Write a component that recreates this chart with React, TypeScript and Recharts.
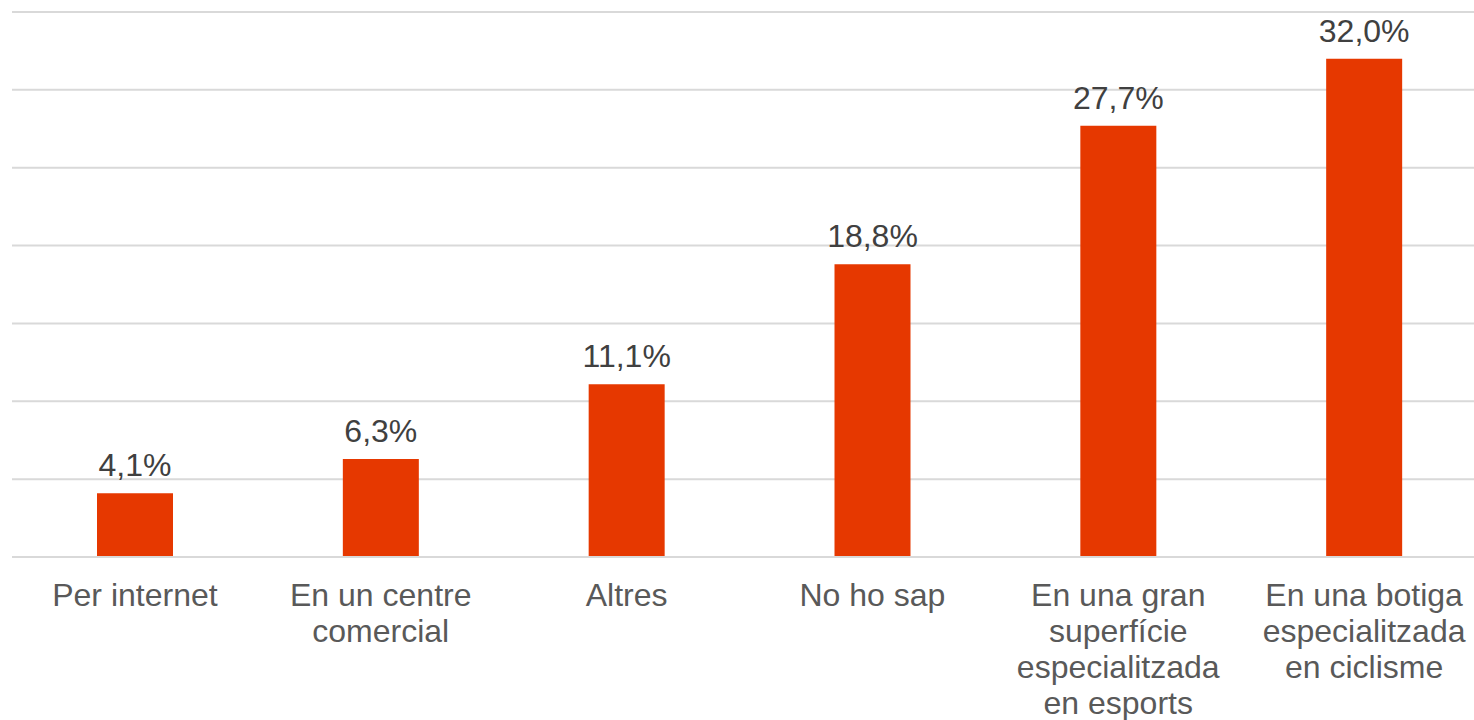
import React from "react";
import { Bar, BarChart, CartesianGrid, LabelList, XAxis, YAxis } from "recharts";

const categories = [
  "Per internet",
  "En un centre\ncomercial",
  "Altres",
  "No ho sap",
  "En una gran\nsuperfície\nespecialitzada\nen esports",
  "En una botiga\nespecialitzada\nen ciclisme",
];
const shares = [4.1, 6.3, 11.1, 18.8, 27.7, 32.0];
const yTicks = [0, 5, 10, 15, 20, 25, 30, 35];

const data = categories.map((name, i) => ({ name, value: shares[i] }));

const FONT = "'Liberation Sans', Arial, sans-serif";

function CategoryTick(props: any) {
  const { x, y, payload } = props;
  const lines = String(payload.value).split("\n");
  return (
    <text
      x={x}
      y={y}
      textAnchor="middle"
      fill="#595959"
      fontSize={32}
      fontFamily={FONT}
    >
      {lines.map((line, i) => (
        <tspan key={i} x={x} dy={i === 0 ? 41 : 36}>
          {line}
        </tspan>
      ))}
    </text>
  );
}

const formatPct = (v: any) => `${Number(v).toFixed(1).replace(".", ",")}%`;

export default function App() {
  return (
    <div
      style={{
        position: "fixed",
        left: 0,
        top: 0,
        width: 1474,
        height: 720,
        overflow: "hidden",
        background: "#fff",
      }}
    >
      <BarChart
        width={1490}
        height={720}
        data={data}
        margin={{ top: 12, right: 3, left: 12, bottom: 0 }}
      >
        <CartesianGrid vertical={false} stroke="#D9D9D9" strokeWidth={2} />
        <YAxis hide domain={[0, 35]} ticks={yTicks} />
        <XAxis
          dataKey="name"
          interval={0}
          height={163}
          tickLine={false}
          axisLine={{ stroke: "#D9D9D9", strokeWidth: 2 }}
          tick={<CategoryTick />}
        />
        <Bar dataKey="value" fill="#E63800" barSize={76} isAnimationActive={false}>
          <LabelList
            dataKey="value"
            position="top"
            offset={17}
            formatter={formatPct}
            fill="#404040"
            fontSize={32}
            fontFamily={FONT}
          />
        </Bar>
      </BarChart>
    </div>
  );
}
